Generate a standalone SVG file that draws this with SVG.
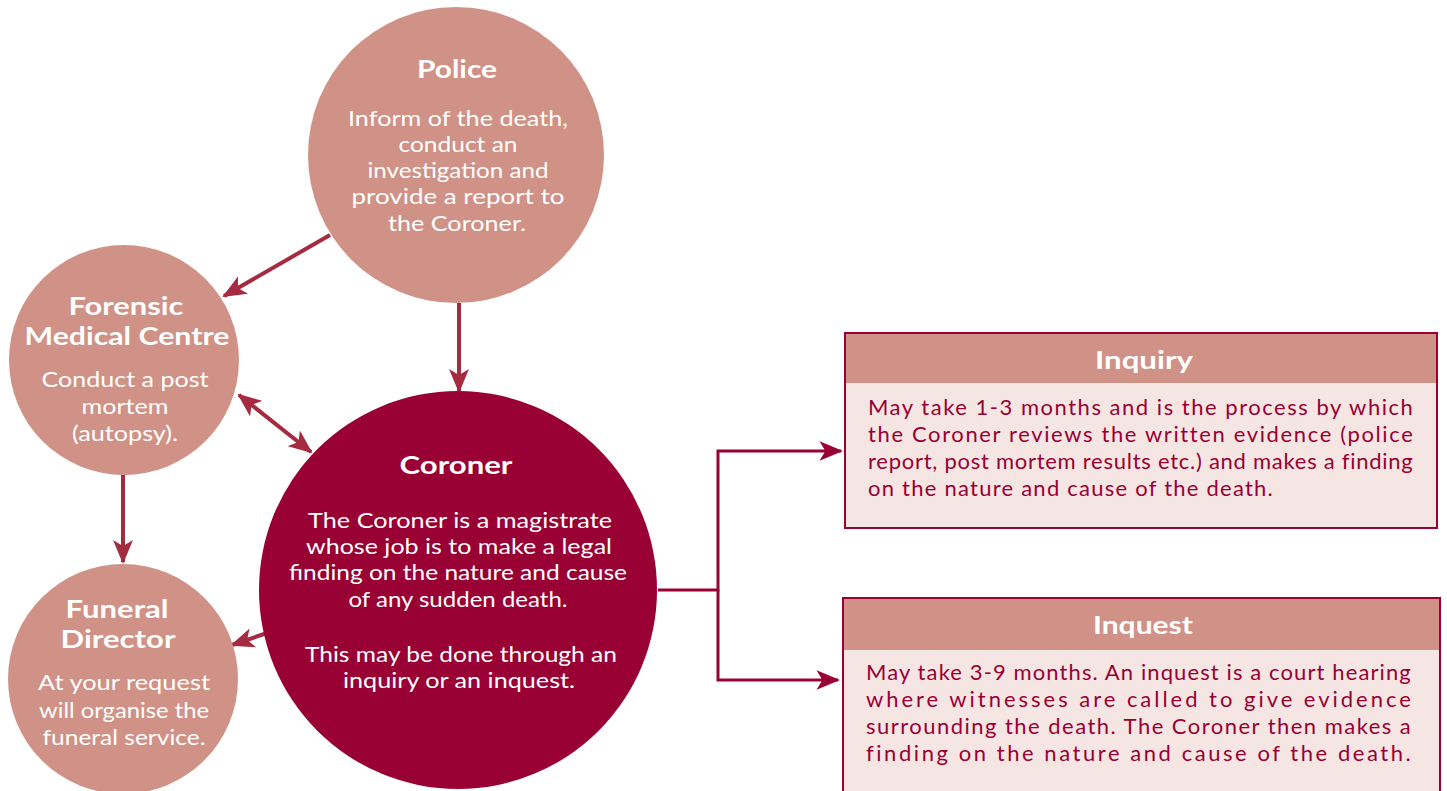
<svg xmlns="http://www.w3.org/2000/svg" width="1447" height="791" viewBox="0 0 1447 791">
<defs>
<style>
.lc{fill:#d09286}
.dc{fill:#990033}
.t{font-family:Lato,"Open Sans","DejaVu Sans",sans-serif;font-size:22px;fill:#fff;text-anchor:middle}
.h{font-family:Lato,"Open Sans","DejaVu Sans",sans-serif;font-size:25px;font-weight:bold;fill:#fff;text-anchor:middle}
.b{font-family:Lato,"Open Sans","DejaVu Sans",sans-serif;font-size:22px;fill:#990033;letter-spacing:1.2px}
.arr{stroke:#a52b40;stroke-width:4;fill:none}
.con{stroke:#990033;stroke-width:3;fill:none}
.box{fill:#f6e6e3;stroke:#990033;stroke-width:2}
.hdr{fill:#d09286}
</style>
<marker id="ah" viewBox="0 0 12 10" refX="11" refY="5" markerWidth="6" markerHeight="5" orient="auto-start-reverse" markerUnits="strokeWidth">
<path d="M0,0 L12,5 L0,10 L3,5 z" fill="#a52b40"/>
</marker>
<marker id="ah2" viewBox="0 0 12 10" refX="11" refY="5" markerWidth="8" markerHeight="6.5" orient="auto" markerUnits="strokeWidth">
<path d="M0,0 L12,5 L0,10 L3,5 z" fill="#990033"/>
</marker>
</defs>

<g id="connectors">
<line class="arr" x1="459" y1="303" x2="459" y2="391" marker-end="url(#ah)"/>
<line class="arr" x1="330" y1="235" x2="224" y2="296" marker-end="url(#ah)"/>
<line class="arr" x1="239" y1="395" x2="311" y2="452" marker-start="url(#ah)" marker-end="url(#ah)"/>
<line class="arr" x1="123" y1="475" x2="123" y2="562" marker-end="url(#ah)"/>
<line class="arr" x1="270" y1="632" x2="232" y2="645" marker-end="url(#ah)"/>
<polyline class="con" points="658,590 718,590 718,451 841,451" marker-end="url(#ah2)"/>
<polyline class="con" points="718,590 718,680 838,680" marker-end="url(#ah2)"/>
</g>

<g id="police">
<circle class="lc" cx="456" cy="155" r="148"/>
<text class="h" x="457" y="78" textLength="80" lengthAdjust="spacingAndGlyphs">Police</text>
<text class="t" x="458" y="126" textLength="220" lengthAdjust="spacingAndGlyphs">Inform of the death,</text>
<text class="t" x="458" y="152" textLength="119" lengthAdjust="spacingAndGlyphs">conduct an</text>
<text class="t" x="458" y="178" textLength="181" lengthAdjust="spacingAndGlyphs">investigation and</text>
<text class="t" x="458" y="204" textLength="213" lengthAdjust="spacingAndGlyphs">provide a report to</text>
<text class="t" x="457" y="231" textLength="138" lengthAdjust="spacingAndGlyphs">the Coroner.</text>
</g>

<g id="forensic">
<circle class="lc" cx="124" cy="360" r="115"/>
<text class="h" x="126" y="315" textLength="115" lengthAdjust="spacingAndGlyphs">Forensic</text>
<text class="h" x="127" y="345" textLength="205" lengthAdjust="spacingAndGlyphs">Medical Centre</text>
<text class="t" x="125" y="387" textLength="167" lengthAdjust="spacingAndGlyphs">Conduct a post</text>
<text class="t" x="125" y="414" textLength="87" lengthAdjust="spacingAndGlyphs">mortem</text>
<text class="t" x="125" y="441" textLength="106" lengthAdjust="spacingAndGlyphs">(autopsy).</text>
</g>

<g id="funeral">
<circle class="lc" cx="123" cy="679" r="115"/>
<text class="h" x="117" y="618" textLength="103" lengthAdjust="spacingAndGlyphs">Funeral</text>
<text class="h" x="118" y="648" textLength="115" lengthAdjust="spacingAndGlyphs">Director</text>
<text class="t" x="124" y="690" textLength="172" lengthAdjust="spacingAndGlyphs">At your request</text>
<text class="t" x="124" y="718" textLength="170" lengthAdjust="spacingAndGlyphs">will organise the</text>
<text class="t" x="124" y="745" textLength="163" lengthAdjust="spacingAndGlyphs">funeral service.</text>
</g>

<g id="coroner">
<circle class="dc" cx="458" cy="590" r="199"/>
<text class="h" x="456" y="474" textLength="113" lengthAdjust="spacingAndGlyphs">Coroner</text>
<text class="t" x="460" y="528" textLength="304" lengthAdjust="spacingAndGlyphs">The Coroner is a magistrate</text>
<text class="t" x="459" y="554" textLength="306" lengthAdjust="spacingAndGlyphs">whose job is to make a legal</text>
<text class="t" x="458" y="580" textLength="338" lengthAdjust="spacingAndGlyphs">finding on the nature and cause</text>
<text class="t" x="458" y="607" textLength="219" lengthAdjust="spacingAndGlyphs">of any sudden death.</text>
<text class="t" x="461" y="662" textLength="312" lengthAdjust="spacingAndGlyphs">This may be done through an</text>
<text class="t" x="459" y="688" textLength="232" lengthAdjust="spacingAndGlyphs">inquiry or an inquest.</text>
</g>

<g id="inquiry">
<rect class="box" x="845" y="333" width="592" height="195"/>
<rect class="hdr" x="846" y="334" width="590" height="49"/>
<text class="h" x="1144" y="369" textLength="98" lengthAdjust="spacingAndGlyphs">Inquiry</text>
<text class="b" x="868" y="415" textLength="546" lengthAdjust="spacing">May take 1-3 months and is the process by which</text>
<text class="b" x="868" y="442" textLength="546" lengthAdjust="spacing">the Coroner reviews the written evidence (police</text>
<text class="b" x="868" y="469" textLength="546" lengthAdjust="spacing">report, post mortem results etc.) and makes a finding</text>
<text class="b" x="868" y="496" textLength="406" lengthAdjust="spacing">on the nature and cause of the death.</text>
</g>

<g id="inquest">
<rect class="box" x="843" y="598" width="597" height="200"/>
<rect class="hdr" x="844" y="599" width="595" height="51"/>
<text class="h" x="1143" y="634" textLength="100" lengthAdjust="spacingAndGlyphs">Inquest</text>
<text class="b" x="866" y="680" textLength="546" lengthAdjust="spacing">May take 3-9 months. An inquest is a court hearing</text>
<text class="b" x="866" y="707" textLength="546" lengthAdjust="spacing">where witnesses are called to give evidence</text>
<text class="b" x="866" y="734" textLength="546" lengthAdjust="spacing">surrounding the death. The Coroner then makes a</text>
<text class="b" x="866" y="761" textLength="546" lengthAdjust="spacing">finding on the nature and cause of the death.</text>
</g>
</svg>
